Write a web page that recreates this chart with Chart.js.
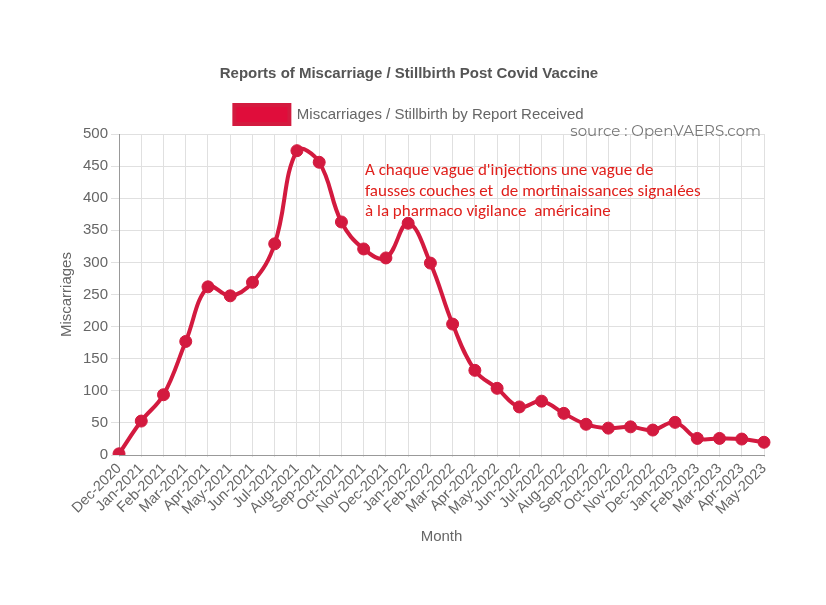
<!DOCTYPE html>
<html>
<head>
<meta charset="utf-8">
<script src="https://cdn.jsdelivr.net/npm/chart.js@4.4.0/dist/chart.umd.min.js"></script>
<style>
  html, body { margin: 0; padding: 0; background: #fff; }
  #wrap { width: 826px; height: 605px; }
</style>
</head>
<body>
<div id="wrap"><canvas id="myLineChart"></canvas></div>
<script>
const months = [
  'Dec-2020', 'Jan-2021', 'Feb-2021', 'Mar-2021', 'Apr-2021', 'May-2021',
  'Jun-2021', 'Jul-2021', 'Aug-2021', 'Sep-2021', 'Oct-2021', 'Nov-2021',
  'Dec-2021', 'Jan-2022', 'Feb-2022', 'Mar-2022', 'Apr-2022', 'May-2022',
  'Jun-2022', 'Jul-2022', 'Aug-2022', 'Sep-2022', 'Oct-2022', 'Nov-2022',
  'Dec-2022', 'Jan-2023', 'Feb-2023', 'Mar-2023', 'Apr-2023', 'May-2023'
];
const miscarriages = [
  2, 53, 94, 177, 262, 248,
  269, 329, 474, 456, 363, 321,
  307, 361, 299, 204, 132, 104,
  75, 84, 65, 48, 42, 44,
  39, 51, 26, 26, 25, 20
];
const annotationLines = [
  "A chaque vague d'injections une vague de",
  'fausses couches et  de mortinaissances signalées',
  'à la pharmaco vigilance  américaine'
];
const sourceText = 'source : OpenVAERS.com';

const lineColor = '#d31a3f';

// overlay texts pasted on the original picture
const overlayText = {
  id: 'overlayText',
  afterDraw(chart) {
    const ctx = chart.ctx;
    ctx.save();
    ctx.textBaseline = 'middle';
    ctx.fillStyle = '#e0201c';
    ctx.font = '17px Carlito, Calibri, "Open Sans", sans-serif';
    annotationLines.forEach((t, i) => ctx.fillText(t, 365, 171 + i * 20.5));
    ctx.fillStyle = '#777';
    ctx.font = '15px Montserrat, "Open Sans", sans-serif';
    ctx.textAlign = 'right';
    ctx.fillText(sourceText, 761, 132);
    ctx.restore();
  }
};

Chart.defaults.font.family = '"Liberation Sans", Arial, Helvetica, sans-serif';
Chart.defaults.color = '#666';

new Chart(document.getElementById('myLineChart'), {
  type: 'line',
  data: {
    labels: months,
    datasets: [{
      label: 'Miscarriages / Stillbirth by Report Received',
      data: miscarriages,
      borderColor: lineColor,
      backgroundColor: '#e00d3b',
      borderWidth: 4,
      pointRadius: 6,
      pointHoverRadius: 6,
      pointBackgroundColor: lineColor,
      pointBorderColor: lineColor,
      pointBorderWidth: 1,
      tension: 0.4,
      fill: false
    }]
  },
  options: {
    responsive: true,
    maintainAspectRatio: false,
    animation: false,
    layout: { padding: { left: 54, right: 62, top: 65, bottom: 59 } },
    plugins: {
      title: {
        display: true,
        text: 'Reports of Miscarriage / Stillbirth Post Covid Vaccine',
        font: { size: 15, weight: 'bold' },
        color: '#555',
        padding: { top: 0, bottom: 12 }
      },
      legend: {
        labels: {
          boxWidth: 55,
          boxHeight: 19,
          font: { size: 15 },
          color: '#666',
          padding: 10
        }
      },
      tooltip: { enabled: false }
    },
    scales: {
      x: {
        title: { display: true, text: 'Month', font: { size: 15 }, color: '#666', padding: { top: 7, bottom: 0 } },
        ticks: { maxRotation: 45, minRotation: 45, autoSkip: false, font: { size: 14.5 }, color: '#666' },
        grid: { color: '#e0e0e0', tickLength: 2 },
        border: { color: '#999' }
      },
      y: {
        min: 0,
        max: 500,
        title: { display: true, text: 'Miscarriages', font: { size: 15 }, color: '#666' },
        ticks: { stepSize: 50, font: { size: 15 }, color: '#666' },
        grid: { color: '#e0e0e0', tickLength: 8 },
        border: { color: '#999' }
      }
    }
  },
  plugins: [overlayText]
});
</script>
</body>
</html>
